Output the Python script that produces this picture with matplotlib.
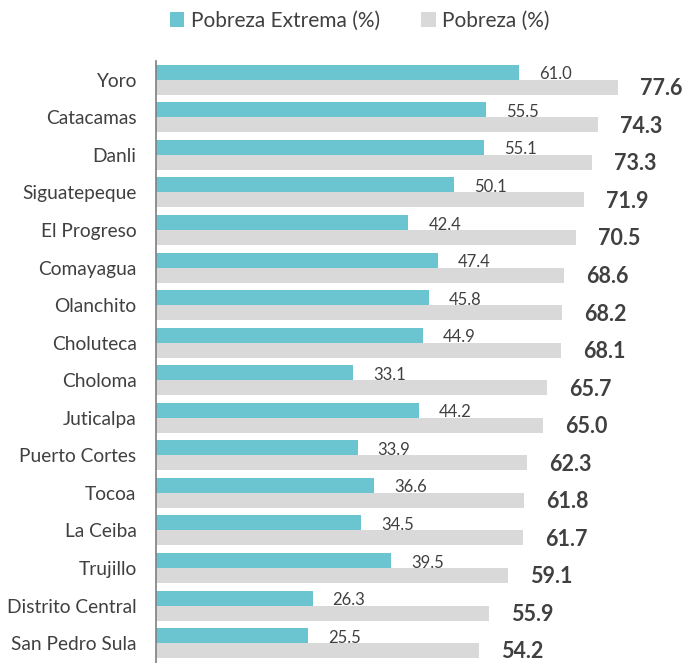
import matplotlib.pyplot as plt
import numpy as np

plt.rcParams['font.family'] = ['Lato', 'DejaVu Sans']

ciudades = ['Yoro', 'Catacamas', 'Danli', 'Siguatepeque', 'El Progreso', 'Comayagua',
            'Olanchito', 'Choluteca', 'Choloma', 'Juticalpa', 'Puerto Cortes', 'Tocoa',
            'La Ceiba', 'Trujillo', 'Distrito Central', 'San Pedro Sula']
pobreza_extrema = [61.0, 55.5, 55.1, 50.1, 42.4, 47.4, 45.8, 44.9, 33.1, 44.2,
                   33.9, 36.6, 34.5, 39.5, 26.3, 25.5]
pobreza = [77.6, 74.3, 73.3, 71.9, 70.5, 68.6, 68.2, 68.1, 65.7, 65.0,
           62.3, 61.8, 61.7, 59.1, 55.9, 54.2]

teal = '#6BC5D1'
gris = '#D9D9D9'
txt = '#404040'

fig = plt.figure(figsize=(6.84, 6.63), dpi=100)
ax = fig.add_axes([0.228, 0.0, 0.772, 0.908])

y = np.arange(len(ciudades))
h = 0.4
b1 = ax.barh(y - h / 2, pobreza_extrema, height=h, color=teal, label='Pobreza Extrema (%)')
b2 = ax.barh(y + h / 2, pobreza, height=h, color=gris, label='Pobreza (%)')

for yi, v in zip(y, pobreza_extrema):
    ax.annotate(f'{v:.1f}', (v, yi - h / 2), xytext=(14.4, -1.5), textcoords='offset points',
                ha='left', va='center', fontsize=12, color=txt)
for yi, v in zip(y, pobreza):
    ax.annotate(f'{v:.1f}', (v, yi + h / 2), xytext=(15.8, -1), textcoords='offset points',
                ha='left', va='center', fontsize=15.5, fontweight='bold', color=txt,
                annotation_clip=False)

ax.set_xlim(0, 88.7)
ax.set_ylim(15.53, -0.5)
ax.set_yticks(y)
ax.set_yticklabels(ciudades, fontsize=13.8, color=txt)
ax.tick_params(axis='y', length=0, pad=14)
ax.set_xticks([])
for s in ['top', 'right', 'bottom']:
    ax.spines[s].set_visible(False)
ax.spines['left'].set_color('#7f7f7f')
ax.spines['left'].set_linewidth(1.2)

leg = fig.legend(handles=[b1, b2], loc='upper center', bbox_to_anchor=(0.526, 1.012), ncol=2,
                 frameon=False, fontsize=15, handlelength=0.7, handleheight=0.7,
                 columnspacing=2.0, handletextpad=0.3)
for t in leg.get_texts():
    t.set_color(txt)

fig.savefig('out.png', dpi=100)
